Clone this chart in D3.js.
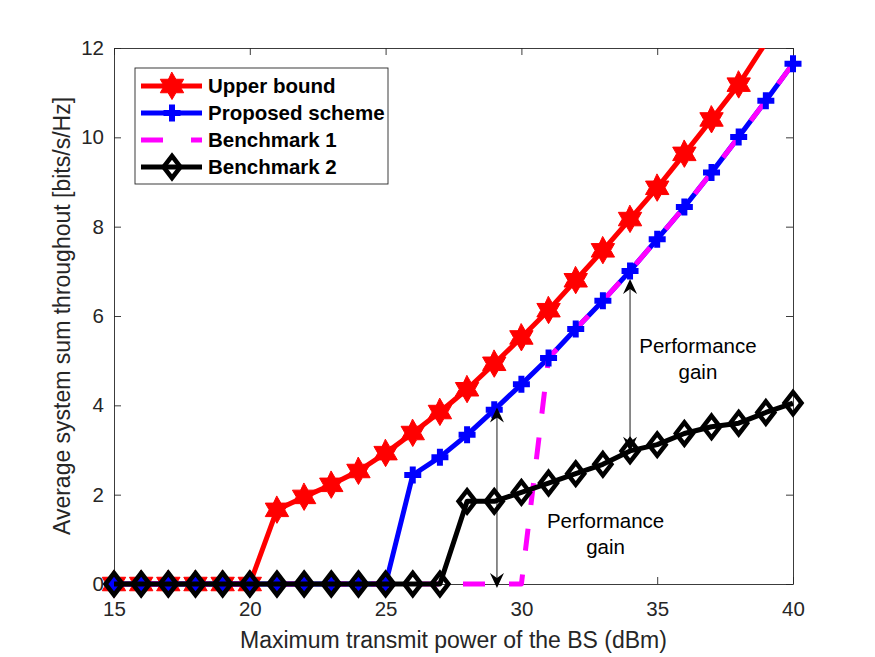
<!DOCTYPE html>
<html>
<head>
<meta charset="utf-8">
<script src="https://cdn.jsdelivr.net/npm/d3@7"></script>
<style>
  body { margin: 0; background: #fff; }
  svg { display: block; font-family: "Liberation Sans", Arial, Helvetica, sans-serif; }
</style>
</head>
<body>
<svg id="chart" width="875" height="657"></svg>
<script>
// data
const power = [15, 16, 17, 18, 19, 20, 21, 22, 23, 24, 25, 26, 27, 28, 29, 30, 31, 32, 33, 34, 35, 36, 37, 38, 39, 40];
const upperBound = [0, 0, 0, 0, 0, 0, 1.66, 1.95, 2.22, 2.53, 2.93, 3.38, 3.85, 4.36, 4.93, 5.52, 6.13, 6.80, 7.47, 8.17, 8.87, 9.63, 10.40, 11.18, 12.12, 13.05];
const proposed = [0, 0, 0, 0, 0, 0, 0, 0, 0, 0, 0, 2.44, 2.84, 3.34, 3.90, 4.47, 5.06, 5.71, 6.34, 7.01, 7.72, 8.44, 9.21, 10.01, 10.82, 11.65];
const bench1 = [0, 0, 0, 0, 0, 0, 0, 0, 0, 0, 0, 0, 0, 0, 0, 0, 5.06, 5.71, 6.34, 7.01, 7.72, 8.44, 9.21, 10.01, 10.82, 11.65];
const bench2 = [0, 0, 0, 0, 0, 0, 0, 0, 0, 0, 0, 0, 0, 1.85, 1.85, 2.05, 2.26, 2.47, 2.68, 2.98, 3.12, 3.37, 3.52, 3.60, 3.84, 4.05];

const xTicks = [15, 20, 25, 30, 35, 40];
const yTicks = [0, 2, 4, 6, 8, 10, 12];
const legendNames = ["Upper bound", "Proposed scheme", "Benchmark 1", "Benchmark 2"];

// annotations (data coordinates)
const arrowX = [29.1, 34];
const arrowFrom = [3.95, 6.83];
const arrowTo = [-0.09, 2.96];
const noteX = [33.1, 36.5];
const noteY = [1.25, 5.17];

const W = 875, H = 657;
const margin = { top: 48, right: 82, bottom: 73, left: 114 };

const svg = d3.select("#chart");

const x = d3.scaleLinear().domain([15, 40]).range([margin.left, W - margin.right]);
const y = d3.scaleLinear().domain([0, 12]).range([H - margin.bottom, margin.top]);

const axisColor = "#262626";

// clip only the top of the plot (lines leave through the top)
svg.append("defs").append("clipPath").attr("id", "clip")
  .append("rect")
  .attr("x", 0).attr("y", margin.top)
  .attr("width", W).attr("height", H - margin.top);

// axes
function styleAxis(g) {
  g.select(".domain").attr("stroke", axisColor).attr("stroke-width", 0.9);
  g.selectAll(".tick line").attr("stroke", axisColor).attr("stroke-width", 0.9);
  g.selectAll(".tick text").attr("fill", axisColor).style("font-size", "20.5px");
}

svg.append("g")
  .attr("transform", `translate(0,${y(0)})`)
  .call(d3.axisBottom(x).tickValues(xTicks).tickSizeInner(-7).tickSizeOuter(0).tickPadding(17))
  .call(styleAxis);

svg.append("g")
  .attr("transform", `translate(0,${y(12)})`)
  .call(d3.axisTop(x).tickValues(xTicks).tickSizeInner(-7).tickSizeOuter(0).tickFormat(""))
  .call(styleAxis);

svg.append("g")
  .attr("transform", `translate(${x(15)},0)`)
  .call(d3.axisLeft(y).tickValues(yTicks).tickSizeInner(-7).tickSizeOuter(0).tickPadding(10))
  .call(styleAxis);

svg.append("g")
  .attr("transform", `translate(${x(40)},0)`)
  .call(d3.axisRight(y).tickValues(yTicks).tickSizeInner(-7).tickSizeOuter(0).tickFormat(""))
  .call(styleAxis);

// axis labels
svg.append("text")
  .attr("x", (x(15) + x(40)) / 2)
  .attr("y", 648)
  .attr("text-anchor", "middle")
  .attr("fill", axisColor)
  .style("font-size", "23px")
  .text("Maximum transmit power of the BS (dBm)");

svg.append("text")
  .attr("transform", `translate(70,${(y(0) + y(12)) / 2}) rotate(-90)`)
  .attr("text-anchor", "middle")
  .attr("fill", axisColor)
  .style("font-size", "23px")
  .text("Average system sum throughout [bits/s/Hz]");

// marker shapes
function hexagram(R) {
  const pts = [];
  for (let i = 0; i < 12; i++) {
    const a = (i * 30 - 90) * Math.PI / 180;
    const r = i % 2 === 0 ? R : R / Math.sqrt(3);
    pts.push([r * Math.cos(a), r * Math.sin(a)]);
  }
  return "M" + pts.map(p => p.join(",")).join("L") + "Z";
}
const starPath = hexagram(13.5);
const plusPath = "M-5.5,0H5.5M0,-5.5V5.5";
const diamondPath = "M0,-11L8.5,0L0,11L-8.5,0Z";

const line = d3.line().x((d, i) => x(power[i])).y(d => y(d));

const plot = svg.append("g");

function drawLine(data, color, dash) {
  plot.append("path")
    .datum(data)
    .attr("clip-path", "url(#clip)")
    .attr("d", line)
    .attr("fill", "none")
    .attr("stroke", color)
    .attr("stroke-width", 5)
    .attr("stroke-linejoin", "round")
    .attr("stroke-dasharray", dash ? "22,24" : null)
    .attr("stroke-dashoffset", dash ? 19 : null);
}

function drawMarkers(data, path, fill, stroke, sw) {
  const pts = data.map((v, i) => [power[i], v]).filter(d => d[1] <= 12);
  plot.append("g").selectAll("path")
    .data(pts)
    .join("path")
    .attr("transform", d => `translate(${x(d[0])},${y(d[1])})`)
    .attr("d", path)
    .attr("fill", fill)
    .attr("stroke", stroke)
    .attr("stroke-width", sw)
    .attr("stroke-linecap", "square")
    .attr("stroke-miterlimit", 10);
}

// upper bound
drawLine(upperBound, "#ff0000");
drawMarkers(upperBound, starPath, "#ff0000", "#ff0000", 1);

// proposed + benchmark 1
drawLine(proposed, "#0000ff");
drawLine(bench1, "#ff00ff", true);
drawMarkers(proposed, plusPath, "none", "#0000ff", 6);

// benchmark 2
drawLine(bench2, "#000000");
drawMarkers(bench2, diamondPath, "none", "#000000", 4.5);

// annotation arrows
function arrowHead(g, px, py, dir) {
  // dir = -1 points up, +1 points down
  const L = 15, w = 7, notch = 5;
  g.append("path")
    .attr("d", `M${px},${py}L${px - w},${py - dir * L}L${px},${py - dir * (L - notch)}L${px + w},${py - dir * L}Z`)
    .attr("fill", "#000");
}
const ann = svg.append("g");
arrowX.forEach((ax, i) => {
  const px = x(ax), y1 = y(arrowFrom[i]), y2 = y(arrowTo[i]);
  ann.append("line")
    .attr("x1", px).attr("x2", px)
    .attr("y1", y1 + 5).attr("y2", y2 - 5)
    .attr("stroke", "#000").attr("stroke-width", 0.9);
  arrowHead(ann, px, y1, -1);
  arrowHead(ann, px, y2, 1);
});

noteX.forEach((nx, i) => {
  const t = ann.append("text")
    .attr("x", x(nx))
    .attr("y", y(noteY[i]))
    .attr("text-anchor", "middle")
    .attr("fill", "#000")
    .style("font-size", "20.5px");
  t.append("tspan").attr("x", x(nx)).text("Performance");
  t.append("tspan").attr("x", x(nx)).attr("dy", 26).text("gain");
});

// legend
const legend = svg.append("g");
legend.append("rect")
  .attr("x", 135).attr("y", 68)
  .attr("width", 253).attr("height", 116)
  .attr("fill", "#fff")
  .attr("stroke", axisColor)
  .attr("stroke-width", 0.9);

const legendStyle = [
  { color: "#ff0000", marker: starPath, fill: "#ff0000", sw: 1 },
  { color: "#0000ff", marker: plusPath, fill: "none", sw: 6 },
  { color: "#ff00ff", marker: null, dash: true },
  { color: "#000000", marker: diamondPath, fill: "none", sw: 4.5 }
];

legendNames.forEach((name, i) => {
  const ly = 86 + i * 27;
  const s = legendStyle[i];
  const row = legend.append("g");
  row.append("line")
    .attr("x1", 141).attr("x2", 202)
    .attr("y1", ly).attr("y2", ly)
    .attr("stroke", s.color).attr("stroke-width", 5)
    .attr("stroke-dasharray", s.dash ? "22,28" : null);
  if (s.marker) {
    row.append("path")
      .attr("transform", `translate(172,${ly})`)
      .attr("d", s.marker)
      .attr("fill", s.fill)
      .attr("stroke", s.color)
      .attr("stroke-width", s.sw)
      .attr("stroke-linecap", "square")
      .attr("stroke-miterlimit", 10);
  }
  row.append("text")
    .attr("x", 208).attr("y", ly)
    .attr("dy", "0.36em")
    .attr("fill", "#000")
    .style("font-size", "20.5px")
    .style("font-weight", "bold")
    .text(name);
});
</script>
</body>
</html>
